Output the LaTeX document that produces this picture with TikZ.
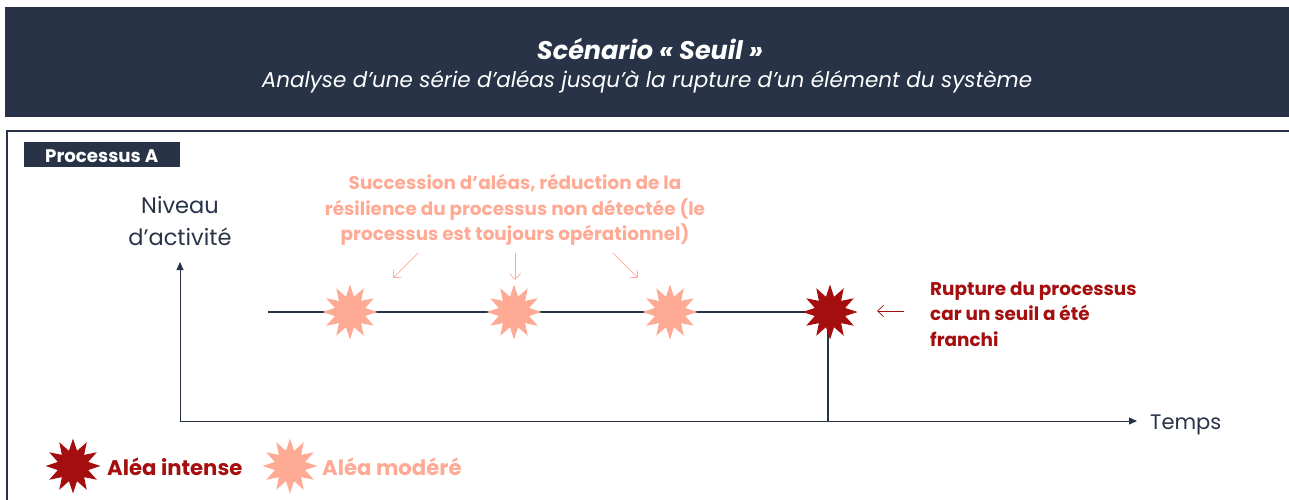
\documentclass[tikz,border=0pt]{standalone}
\usepackage{fontspec}
\setmainfont{Poppins}
\usetikzlibrary{arrows.meta, positioning, shapes.geometric}
\definecolor{scNavy}{HTML}{283347}
\definecolor{scSalmon}{HTML}{FFAA95}
\definecolor{scRed}{HTML}{A50E0E}
\tikzset{
  alea/.style={star, star points=12, star point ratio=1.75, minimum size=55pt,
    inner sep=0pt, draw=none},
  aleamod/.style={alea, fill=scSalmon},
  aleaint/.style={alea, fill=scRed},
  axis/.style={-{Triangle[length=8pt, width=7pt]}, line width=1pt, draw=scNavy},
  level/.style={line width=1.3pt, draw=scNavy},
  pointer/.style={-{Straight Barb[length=6pt, width=11pt]}, line width=0.7pt, draw=scSalmon},
  pointerr/.style={pointer, draw=scRed},
  axlbl/.style={font=\fontsize{22.5}{32}\selectfont, text=scNavy, align=center, inner sep=0pt},
  note/.style={font=\fontsize{18.4}{25.5}\selectfont\bfseries, inner sep=0pt},
  legtxt/.style={font=\fontsize{21.2}{24}\selectfont\bfseries, inner sep=0pt, anchor=west},
}

\begin{document}
\begin{tikzpicture}[x=1pt, y=-1pt]
  \useasboundingbox (0,0) rectangle (1289,500);
  % bandeau du haut
  \fill[scNavy] (5,7) rectangle (1289,117);
  \node[text=white, font=\fontsize{25.5}{30}\selectfont\bfseries\itshape] (titre) at (650,49)
    {Scénario « Seuil »};
  \node[text=white, font=\fontsize{21.5}{26}\selectfont\itshape] (soustitre) at (647,82)
    {Analyse d’une série d’aléas jusqu’à la rupture d’un élément du système};

  % cadre du processus
  \draw[scNavy, line width=1.6pt] (7,500) -- (7,131) -- (1289,131);
  \fill[scNavy] (24,142) rectangle (180,167);
  \node[text=white, font=\fontsize{18.2}{20}\selectfont\bfseries, anchor=west, inner sep=0pt]
    (proc) at (45,156) {Processus A};

  % axes
  \coordinate (orig) at (180,421);
  \coordinate (ytip) at (180,262);
  \coordinate (xtip) at (1137,421);
  \draw[axis] (orig) -- (ytip);
  \draw[axis] (orig) -- (xtip);
  \node[axlbl] (niveau) at (180,221) {Niveau\\d’activité};
  \node[axlbl, font=\fontsize{21}{25}\selectfont, anchor=west] (temps) at (1150,425) {Temps};

  % niveau d'activite et rupture
  \coordinate (debut) at (268,312);
  \coordinate (chute) at (828,312);
  \coordinate (sol) at (828,421);
  \draw[level] (debut) -- (chute) -- (sol);

  \node[aleamod] (a1) at (350,312) {};
  \node[aleamod] (a2) at (514,312) {};
  \node[aleamod] (a3) at (670,312) {};
  \node[aleaint] (a4) at (830,312) {};

  \node[note, text=scSalmon, align=center] (succ) at (515,210)
    {Succession d’aléas, réduction de la\\résilience du processus non détectée (le\\processus est toujours opérationnel)};
  \coordinate (s1) at (418,253);
  \coordinate (s2) at (515,253);
  \coordinate (s3) at (613,253);
  \coordinate (e1) at (393,278);
  \coordinate (e2) at (515,280);
  \coordinate (e3) at (638,278);
  \draw[pointer] (s1) -- (e1);
  \draw[pointer] (s2) -- (e2);
  \draw[pointer] (s3) -- (e3);

  \node[note, text=scRed, align=left, anchor=west] (rupt) at (930,314)
    {Rupture du processus\\car un seuil a été\\franchi};
  \coordinate (r1) at (904,311);
  \coordinate (r2) at (877,311);
  \draw[pointerr] (r1) -- (r2);

  % legende
  \node[aleaint] (legint) at (73,466) {};
  \node[legtxt, text=scRed] (txtint) at (107,467) {Aléa intense};
  \node[aleamod] (legmod) at (290,466) {};
  \node[legtxt, text=scSalmon] (txtmod) at (322,467) {Aléa modéré};
\end{tikzpicture}
\end{document}
